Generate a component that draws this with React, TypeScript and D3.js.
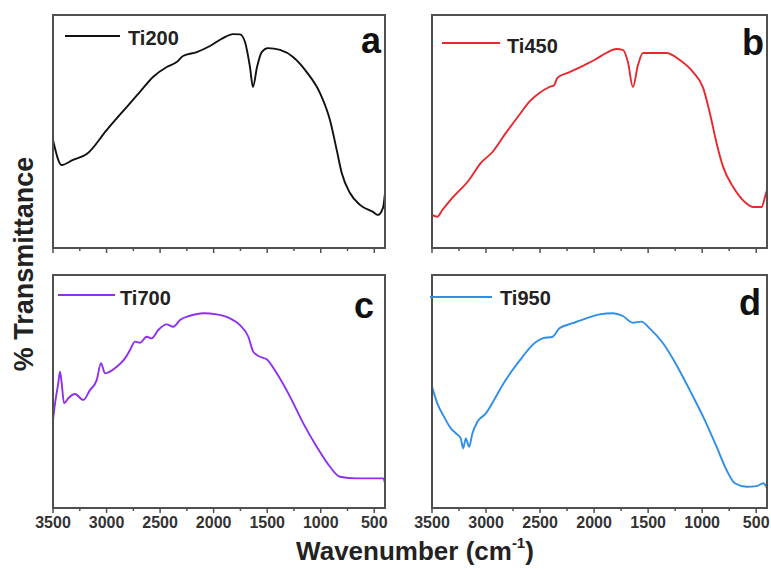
import * as d3 from "d3";

// FTIR spectra, wavenumber (cm-1) vs relative transmittance
const ti200Wn = [3500, 3419, 3313, 3185, 2999, 2812, 2688, 2566, 2438, 2345, 2286, 2158, 2034, 1913, 1819, 1754, 1707, 1661, 1633, 1595, 1551, 1493, 1380, 1259, 1131, 1007, 914, 851, 804, 727, 634, 512, 465, 419, 400];
const ti200T = [46.4, 35.6, 37.8, 40.3, 50.6, 60.5, 67.0, 73.4, 77.7, 79.8, 82.4, 84.1, 86.7, 90.1, 91.8, 91.7, 88.4, 77.7, 69.1, 77.7, 84.1, 85.8, 85.0, 82.0, 75.5, 66.5, 54.9, 42.1, 32.2, 23.6, 18.5, 15.5, 14.2, 17.2, 23.6];

const ti450Wn = [3500, 3451, 3404, 3312, 3157, 3048, 2940, 2816, 2693, 2600, 2507, 2414, 2368, 2340, 2228, 2108, 1981, 1888, 1795, 1734, 1687, 1641, 1594, 1548, 1455, 1331, 1207, 1084, 991, 929, 867, 806, 713, 604, 527, 449, 419, 400];
const ti450T = [14.2, 13.4, 16.3, 21.5, 29.2, 36.5, 41.2, 49.4, 57.1, 62.7, 66.5, 69.1, 70.0, 73.0, 75.5, 78.1, 81.1, 83.7, 85.4, 85.0, 79.8, 69.1, 78.5, 83.7, 83.7, 83.7, 80.7, 75.5, 68.7, 57.9, 45.1, 34.8, 26.2, 19.7, 17.6, 17.6, 21.9, 24.9];

const ti700Wn = [3500, 3481, 3451, 3435, 3419, 3397, 3357, 3295, 3217, 3155, 3092, 3052, 3014, 2905, 2828, 2781, 2734, 2688, 2625, 2578, 2517, 2438, 2377, 2314, 2221, 2097, 1972, 1847, 1754, 1676, 1630, 1567, 1505, 1411, 1287, 1163, 1038, 914, 821, 664, 416, 400];
const ti700T = [37.8, 44.9, 53.5, 58.5, 53.6, 44.9, 47.1, 48.9, 46.4, 50.6, 54.9, 62.1, 57.8, 60.6, 64.2, 67.8, 71.4, 70.9, 73.5, 72.8, 76.4, 78.8, 77.8, 80.7, 82.5, 83.6, 83.1, 81.4, 78.5, 73.5, 67.1, 64.9, 63.8, 57.8, 47.8, 36.3, 26.3, 17.7, 13.4, 12.7, 12.7, 10.7];

const ti950Wn = [3500, 3451, 3389, 3326, 3280, 3234, 3212, 3187, 3157, 3126, 3080, 3002, 2925, 2847, 2755, 2662, 2569, 2476, 2383, 2321, 2198, 2073, 1950, 1827, 1734, 1641, 1563, 1486, 1362, 1238, 1115, 991, 867, 774, 697, 588, 496, 434, 400];
const ti950T = [52.1, 44.9, 39.2, 34.2, 32.1, 29.9, 25.6, 29.9, 26.3, 32.1, 37.0, 40.6, 46.4, 52.8, 59.2, 64.9, 70.0, 72.8, 73.5, 77.1, 79.3, 81.4, 83.1, 83.6, 82.4, 79.5, 80.0, 77.1, 70.7, 61.4, 50.6, 39.2, 26.3, 16.3, 10.6, 9.1, 9.4, 10.6, 8.6];

const sampleNames = ["Ti200", "Ti450", "Ti700", "Ti950"];
const panelLetters = ["a", "b", "c", "d"];
const xMajorTicks = [3500, 3000, 2500, 2000, 1500, 1000, 500];
const xMinorTicks = [3250, 2750, 2250, 1750, 1250, 750];

const seriesWn = [ti200Wn, ti450Wn, ti700Wn, ti950Wn];
const seriesT = [ti200T, ti450T, ti700T, ti950T];

// layout of the 2x2 grid
const boxes = [
  {left: 53, top: 15, right: 385, bottom: 248, color: "#111111", labels: false,
    leg: {x1: 65, x2: 120, y: 36, tx: 128, ty: 45}, letter: {x: 381, y: 53}},
  {left: 432, top: 15, right: 767, bottom: 248, color: "#e8282c", labels: false,
    leg: {x1: 442, x2: 500, y: 43, tx: 507, ty: 53}, letter: {x: 764, y: 55}},
  {left: 53, top: 275, right: 385, bottom: 508, color: "#9030ee", labels: true,
    leg: {x1: 58, x2: 115, y: 295, tx: 120, ty: 305}, letter: {x: 374, y: 318}},
  {left: 432, top: 275, right: 767, bottom: 508, color: "#2f8ee8", labels: true,
    leg: {x1: 430, x2: 492, y: 297, tx: 500, ty: 305}, letter: {x: 761, y: 315}},
];

const font = "Arial, 'Liberation Sans', Helvetica, sans-serif";

function Panel({i}: {i: number}) {
  const b = boxes[i];
  const x = d3.scaleLinear().domain([3500, 400]).range([b.left, b.right]);
  const y = d3.scaleLinear().domain([0, 100]).range([b.bottom, b.top]);
  const pts = seriesWn[i].map((w, k) => [w, seriesT[i][k]] as [number, number]);
  const line = d3.line<[number, number]>()
    .x(d => x(d[0]))
    .y(d => y(d[1]))
    .curve(d3.curveMonotoneX);
  const clipId = "clip" + i;
  return (
    <g>
      <defs>
        <clipPath id={clipId}>
          <rect x={b.left} y={b.top} width={b.right - b.left} height={b.bottom - b.top}/>
        </clipPath>
      </defs>
      <path d={line(pts) || ""} fill="none" stroke={b.color} strokeWidth={1.9}
            strokeLinejoin="round" clipPath={`url(#${clipId})`}/>
      <rect x={b.left} y={b.top} width={b.right - b.left} height={b.bottom - b.top}
            fill="none" stroke="#505050" strokeWidth={2}/>
      {xMajorTicks.map(t => (
        <line key={"M" + t} x1={x(t)} x2={x(t)} y1={b.bottom} y2={b.bottom + 5}
              stroke="#505050" strokeWidth={1.5}/>
      ))}
      {xMinorTicks.map(t => (
        <line key={"m" + t} x1={x(t)} x2={x(t)} y1={b.bottom} y2={b.bottom + 3}
              stroke="#505050" strokeWidth={1.5}/>
      ))}
      {b.labels && xMajorTicks.map(t => (
        <text key={"l" + t} x={x(t)} y={b.bottom + 20} textAnchor="middle"
              fontFamily={font} fontWeight="bold" fontSize={16} fill="#333">{t}</text>
      ))}
      <line x1={b.leg.x1} x2={b.leg.x2} y1={b.leg.y} y2={b.leg.y} stroke={b.color} strokeWidth={2.2}/>
      <text x={b.leg.tx} y={b.leg.ty} fontFamily={font} fontWeight="bold" fontSize={20}
            fill="#222">{sampleNames[i]}</text>
      <text x={b.letter.x} y={b.letter.y} textAnchor="end" fontFamily={font}
            fontWeight="bold" fontSize={36} fill="#111">{panelLetters[i]}</text>
    </g>
  );
}

export default function App() {
  return (
    <svg width={771} height={569} style={{position: "absolute", left: 0, top: 0, background: "#fff"}}>
      <rect width={771} height={569} fill="#fff"/>
      {boxes.map((_, i) => <Panel key={i} i={i}/>)}
      <text transform="translate(33,264) rotate(-90)" textAnchor="middle" fontFamily={font}
            fontWeight="bold" fontSize={27} fill="#222">% Transmittance</text>
      <text x={415} y={560} textAnchor="middle" fontFamily={font} fontWeight="bold"
            fontSize={26} fill="#222">
        Wavenumber (cm<tspan fontSize={15} dy={-12}>-1</tspan><tspan dy={12}>)</tspan>
      </text>
    </svg>
  );
}
